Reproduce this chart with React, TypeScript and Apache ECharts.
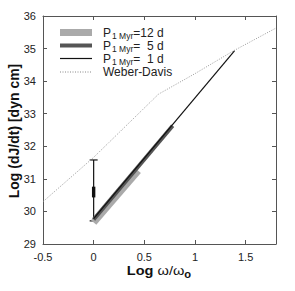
import React, { useEffect, useRef } from "react";
import * as echarts from "echarts";

const weberDavisX = [-0.5, 0, 0.64, 1.0, 1.38, 1.8];
const weberDavisY = [30.3, 31.66, 33.6, 34.23, 34.93, 35.63];

const p12X = [0, 0.44];
const p12Y = [29.66, 31.25];
const p5X = [0, 0.78];
const p5Y = [29.75, 32.63];
const p1X = [0, 1.39];
const p1Y = [29.78, 34.93];

// error bar at log w/wo = 0: [x, low, high, boxLow, boxHigh]
const errorBar = [[0, 29.71, 31.58, 30.43, 30.76]];

const xTicks = { min: -0.5, max: 1.8, interval: 0.5 };
const yTicks = { min: 29, max: 36, interval: 1 };

const legendItems = [
  { label: "{n|P}{s|1 Myr}{n|=12 d}", color: "#aaaaaa", width: 7, dash: "solid" },
  { label: "{n|P}{s|1 Myr}{n|=  5 d}", color: "#555555", width: 4, dash: "solid" },
  { label: "{n|P}{s|1 Myr}{n|=  1 d}", color: "#111111", width: 1.2, dash: "solid" },
  { label: "{n|Weber-Davis}", color: "#888888", width: 1, dash: "dotted" },
];

const FONT = "'Liberation Sans', Arial, Helvetica, sans-serif";

function zip(xs: number[], ys: number[]) {
  return xs.map((x, i) => [x, ys[i]]);
}

export default function App() {
  const ref = useRef<HTMLDivElement>(null);
  useEffect(() => {
    if (!ref.current) return;
    const chart = echarts.init(ref.current, null, { renderer: "svg" });
    const axisLine = { show: true, onZero: false, lineStyle: { color: "#555", width: 1 } };
    const axisTick = { show: true, inside: true, length: 4, lineStyle: { color: "#555" } };
    const labelStyle = { color: "#222", fontFamily: FONT, fontSize: 11 };
    const legendRowsY = [32.5, 45.5, 58.5, 72];
    const legendGraphics: any[] = [];
    legendItems.forEach((it, i) => {
      legendGraphics.push({
        type: "line",
        shape: { x1: 60, y1: legendRowsY[i], x2: 92, y2: legendRowsY[i] },
        style: {
          stroke: it.color,
          lineWidth: it.width,
          lineDash: it.dash === "dotted" ? [1, 1.5] : null,
        },
      });
      legendGraphics.push({
        type: "text",
        x: 103,
        y: legendRowsY[i],
        style: {
          text: it.label,
          fill: "#222",
          font: `12px ${FONT}`,
          verticalAlign: "middle",
          align: "left",
          rich: {
            n: { fontSize: 12, fontFamily: FONT, fill: "#222", lineHeight: 12, verticalAlign: "middle" },
            s: { fontSize: 8.5, fontFamily: FONT, fill: "#222", lineHeight: 12, verticalAlign: "middle", padding: [6, 0, 0, 1] },
          },
        },
      });
    });

    chart.setOption({
      animation: false,
      backgroundColor: "#fff",
      grid: { left: 43, right: 19, top: 16, bottom: 47, containLabel: false },
      xAxis: [
        {
          type: "value",
          ...xTicks,
          axisLine,
          axisTick,
          splitLine: { show: false },
          axisLabel: { ...labelStyle, margin: 7, showMaxLabel: false },
        },
        {
          type: "value",
          position: "top",
          ...xTicks,
          axisLine,
          axisTick,
          splitLine: { show: false },
          axisLabel: { show: false },
        },
      ],
      yAxis: [
        {
          type: "value",
          ...yTicks,
          axisLine,
          axisTick,
          splitLine: { show: false },
          axisLabel: { ...labelStyle, margin: 7 },
        },
        {
          type: "value",
          position: "right",
          ...yTicks,
          axisLine,
          axisTick,
          splitLine: { show: false },
          axisLabel: { show: false },
        },
      ],
      series: [
        {
          type: "line",
          name: "Weber-Davis",
          data: zip(weberDavisX, weberDavisY),
          showSymbol: false,
          lineStyle: { color: "#999", width: 1, type: [1, 1.5] },
        },
        {
          type: "line",
          name: "P12",
          data: zip(p12X, p12Y),
          showSymbol: false,
          lineStyle: { color: "#aaaaaa", width: 7, cap: "butt" },
        },
        {
          type: "line",
          name: "P5",
          data: zip(p5X, p5Y),
          showSymbol: false,
          lineStyle: { color: "#555555", width: 4, cap: "butt" },
        },
        {
          type: "line",
          name: "P1",
          data: zip(p1X, p1Y),
          showSymbol: false,
          lineStyle: { color: "#111111", width: 1.2 },
        },
        {
          type: "custom",
          name: "error",
          data: errorBar,
          renderItem: (params: any, api: any) => {
            const x = api.value(0);
            const lo = api.coord([x, api.value(1)]);
            const hi = api.coord([x, api.value(2)]);
            const bl = api.coord([x, api.value(3)]);
            const bh = api.coord([x, api.value(4)]);
            const st = { stroke: "#111", lineWidth: 1.2 };
            return {
              type: "group",
              children: [
                { type: "line", shape: { x1: lo[0], y1: lo[1], x2: hi[0], y2: hi[1] }, style: st },
                { type: "line", shape: { x1: lo[0] - 4, y1: lo[1], x2: lo[0] + 4, y2: lo[1] }, style: st },
                { type: "line", shape: { x1: hi[0] - 4, y1: hi[1], x2: hi[0] + 4, y2: hi[1] }, style: st },
                {
                  type: "rect",
                  shape: { x: bh[0] - 1.7, y: bh[1], width: 3.4, height: bl[1] - bh[1] },
                  style: { fill: "#111" },
                },
              ],
            };
          },
        },
      ],
      graphic: [
        ...legendGraphics,
        {
          type: "text",
          x: 159,
          y: 271,
          scaleX: 1.12,
          style: {
            text: "{b|Log }{w|ω/ω}{sb|o}",
            align: "center",
            verticalAlign: "middle",
            rich: {
              b: { fontSize: 13, fontWeight: "bold", fontFamily: FONT, fill: "#111", lineHeight: 12, verticalAlign: "middle" },
              w: { fontSize: 13, fontFamily: FONT, fill: "#111", lineHeight: 12, verticalAlign: "middle" },
              sb: { fontSize: 10, fontWeight: "bold", fontFamily: FONT, fill: "#111", lineHeight: 12, verticalAlign: "middle", padding: [6, 0, 0, 0] },
            },
          },
        },
        {
          type: "text",
          x: 14,
          y: 131,
          rotation: Math.PI / 2,
          style: {
            text: "Log (dJ/dt) [dyn cm]",
            align: "center",
            verticalAlign: "middle",
            fill: "#111",
            font: `bold 14px ${FONT}`,
          },
        },
      ],
    });
    return () => chart.dispose();
  }, []);
  return (
    <div
      ref={ref}
      style={{ position: "fixed", left: 0, top: 0, width: 295, height: 291 }}
    />
  );
}
